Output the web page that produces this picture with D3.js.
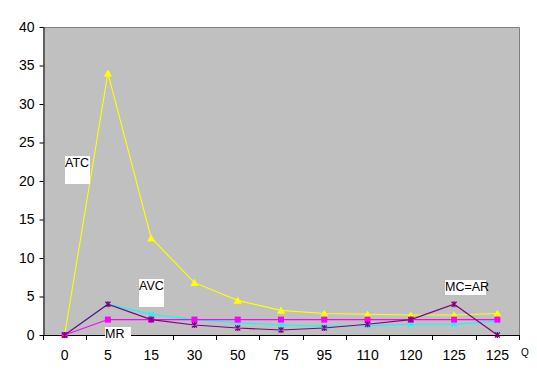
<!DOCTYPE html>
<html><head><meta charset="utf-8">
<script src="https://cdn.jsdelivr.net/npm/d3@7"></script>
<style>body{margin:0;background:#fff}svg{display:block}text{font-family:"Liberation Sans",Arial,sans-serif}</style>
</head><body><svg id="c" width="537" height="383"></svg>
<script>
const categories = ["0","5","15","30","50","75","95","110","120","125","125"];
const atc = [0, 34, 12.6, 6.8, 4.5, 3.2, 2.8, 2.7, 2.6, 2.6, 2.8];
const avc = [0, 4, 2.7, 2.0, 1.6, 1.3, 1.15, 1.2, 1.4, 1.4, 1.8];
const mr  = [0, 2, 2, 2, 2, 2, 2, 2, 2, 2, 2];
const mc  = [0, 4, 2, 1.3, 0.9, 0.65, 0.9, 1.4, 2, 4, 0];
const yTicks = [0,5,10,15,20,25,30,35,40];
const axisTitle = "Q";
// annotation boxes: position in category units (from left edge) and value units (top)
const notes = [
  {text:"ATC",   xi:0.5,  v:23.2, w:25, h:28},
  {text:"AVC",   xi:2.22, v:7.3,  w:25, h:28},
  {text:"MR",    xi:1.43, v:1.05, w:26, h:17},
  {text:"MC=AR", xi:9.29, v:7.1,  w:41, h:15}
];

const svg = d3.select("#c");
const L=43, R=519, T=27, B=335;
const x = d3.scaleBand().domain(d3.range(categories.length)).range([L,R]).padding(0);
const y = d3.scaleLinear().domain([0,40]).range([B,T]);
const xc = i => x(i) + x.bandwidth()/2;
const xu = u => L + u * x.step();

svg.append("rect").attr("x",L).attr("y",T).attr("width",R-L).attr("height",B-T).attr("fill","#c0c0c0");
svg.append("path").attr("d",`M${L},${T+0.5}H${R+0.5}V${B}`).attr("fill","none").attr("stroke","#808080");

// y axis
const ya = svg.append("g").attr("transform",`translate(${L+0.5},0)`)
  .call(d3.axisLeft(y).tickValues(yTicks).tickSize(4).tickPadding(5).tickSizeOuter(0));
ya.select(".domain").attr("stroke","#000");
ya.selectAll("line").attr("stroke","#000");
ya.selectAll("text").attr("font-size",14).attr("fill","#000").attr("font-family","'Liberation Sans',Arial,sans-serif");

// x axis: line, boundary ticks, labels
const xg = svg.append("g");
xg.append("line").attr("x1",L).attr("x2",R+1).attr("y1",B+0.5).attr("y2",B+0.5).attr("stroke","#000");
xg.selectAll("line.tk").data(d3.range(categories.length+1)).join("line").attr("class","tk")
  .attr("x1",i=>Math.round(xu(i))+0.5).attr("x2",i=>Math.round(xu(i))+0.5)
  .attr("y1",B).attr("y2",B+5).attr("stroke","#000");
xg.selectAll("text").data(categories).join("text")
  .attr("x",(d,i)=>xc(i)).attr("y",B+25).attr("text-anchor","middle")
  .attr("font-size",14).text(d=>d);
svg.append("text").attr("x",R+2).attr("y",B+21).attr("font-size",10).text(axisTitle);

const line = d3.line().x((d,i)=>xc(i)).y(d=>y(d));
function series(vals,color,marker){
  const g = svg.append("g");
  g.append("path").attr("d",line(vals)).attr("fill","none").attr("stroke",color).attr("stroke-width",1.1);
  const m = g.selectAll("g").data(vals).join("g").attr("transform",(d,i)=>`translate(${xc(i)},${y(d)})`);
  marker(m,color);
}
const tri = (m,c)=>m.append("path").attr("d",d3.symbol(d3.symbolTriangle,30)()).attr("transform","translate(0,1)").attr("fill",c);
const sq  = (m,c)=>m.append("rect").attr("x",-3).attr("y",-3).attr("width",6).attr("height",6).attr("fill",c);
const cross=(m,c)=>m.append("path").attr("d","M-2.5,-2.5L2.5,2.5M-2.5,2.5L2.5,-2.5").attr("stroke",c).attr("stroke-width",1.2);
const star=(m,c)=>m.append("path").attr("d","M-2.5,-2.5L2.5,2.5M-2.5,2.5L2.5,-2.5M0,-3V3").attr("stroke",c).attr("stroke-width",1.3);

series(atc,"#ffff00",tri);
series(avc,"#00ffff",cross);
series(mr,"#ff00ff",sq);
series(mc,"#800080",star);

// annotations
const ng = svg.selectAll("g.note").data(notes).join("g").attr("class","note")
  .attr("transform",d=>`translate(${Math.round(xu(d.xi))},${Math.round(y(d.v))})`);
ng.append("rect").attr("width",d=>d.w).attr("height",d=>d.h).attr("fill","#fff");
ng.append("text").attr("x",0).attr("y",11).attr("font-size",12.5).attr("fill","#000").text(d=>d.text);
</script></body></html>
